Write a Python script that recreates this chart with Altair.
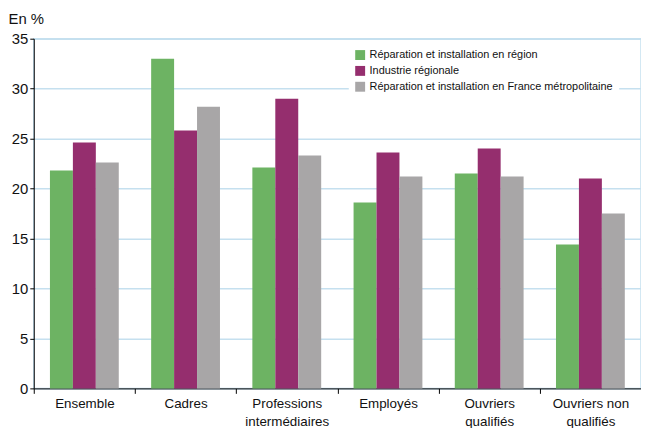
import altair as alt
import pandas as pd

categories = ["Ensemble", "Cadres", "Professions|intermédiaires", "Employés",
              "Ouvriers|qualifiés", "Ouvriers non|qualifiés"]
series = ["Réparation et installation en région", "Industrie régionale",
          "Réparation et installation en France métropolitaine"]
green_vals = [21.8, 33.0, 22.1, 18.6, 21.5, 14.4]
purple_vals = [24.6, 25.8, 29.0, 23.6, 24.0, 21.0]
grey_vals = [22.6, 28.2, 23.3, 21.2, 21.2, 17.5]
colors = ["#6db363", "#952e6e", "#a8a6a7"]

rows = []
for s, vals in zip(series, [green_vals, purple_vals, grey_vals]):
    for c, v in zip(categories, vals):
        rows.append({"cat": c, "serie": s, "val": v})
df = pd.DataFrame(rows)

FONT = "Liberation Sans Narrow, Liberation Sans, Arial"
W = 613
HALF = W / 6 / 2

chart = alt.Chart(df).mark_bar().encode(
    x=alt.X("cat:N", sort=categories,
            scale=alt.Scale(paddingInner=0.32, paddingOuter=0.16),
            axis=alt.Axis(title=None, labelAngle=0, labelExpr="split(datum.label, '|')",
                          tickOffset=-HALF, labelOffset=HALF,
                          domainColor="#000", tickColor="#000",
                          tickSize=5, labelFontSize=13.5, labelColor="#111", labelPadding=3,
                          labelFont=FONT, labelLineHeight=18, grid=False)),
    xOffset=alt.XOffset("serie:N", sort=series, scale=alt.Scale(paddingInner=0, paddingOuter=0)),
    y=alt.Y("val:Q", scale=alt.Scale(domain=[0, 35], nice=False),
            axis=alt.Axis(values=[0, 5, 10, 15, 20, 25, 30, 35], title="En %",
                          titleAngle=0, titleAlign="left", titleBaseline="bottom",
                          titleX=-26, titleY=-12, titleFontWeight="normal",
                          titleFontSize=15, titleFont=FONT, titleColor="#111",
                          labelFontSize=15, labelFont=FONT, labelColor="#111",
                          domainColor="#000", tickColor="#000", tickSize=4,
                          gridColor="#c5e0ef", gridWidth=1.5, labelPadding=2)),
    color=alt.Color("serie:N", sort=series,
                    scale=alt.Scale(domain=series, range=colors),
                    legend=alt.Legend(title=None, orient="none", legendX=318, legendY=5,
                                      fillColor="white", padding=6,
                                      symbolType="square", symbolSize=100,
                                      symbolStrokeWidth=0,
                                      labelFontSize=11, labelFont=FONT, labelColor="#111",
                                      rowPadding=4, labelLimit=400)),
).properties(
    width=W, height=353,
    autosize=alt.AutoSizeParams(type="none"),
    padding={"left": 26, "top": 29, "right": 0, "bottom": 38},
).configure_view(stroke="#c5e0ef", strokeWidth=1.5)

chart.save("out.html", embed_options={"renderer": "svg", "actions": False})
